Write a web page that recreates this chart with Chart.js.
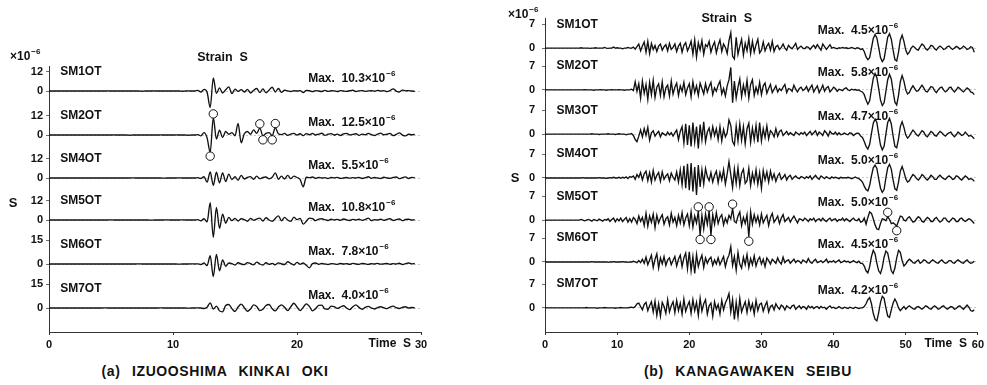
<!DOCTYPE html>
<html>
<head>
<meta charset="utf-8">
<script src="https://cdn.jsdelivr.net/npm/chart.js@4/dist/chart.umd.min.js"></script>
<style>
  body { margin: 0; background: #fff; }
  #wrap { position: relative; width: 987px; height: 385px; overflow: hidden; }
  canvas { position: absolute; top: 0; }
  #chartA { left: 0; }
  #chartB { left: 495px; }
  .cap {
    position: absolute; top: 363px; transform: translateX(-50%);
    font: bold 14px "Liberation Sans", Arial, sans-serif; color: #111;
    letter-spacing: 0.6px; word-spacing: 7px; white-space: nowrap;
  }
</style>
</head>
<body>
<div id="wrap">
  <canvas id="chartA" width="440" height="360"></canvas>
  <canvas id="chartB" width="492" height="360"></canvas>
  <div class="cap" style="left:215px">(a) IZUOOSHIMA KINKAI OKI</div>
  <div class="cap" style="left:748px">(b) KANAGAWAKEN SEIBU</div>
</div>
<script>
// Strain records (x10^-6), one sample every 0.25 s from t = 0.
const STEP = 0.25;

// ---- (a) IZUOOSHIMA KINKAI OKI ----
const namesA = ['SM1OT', 'SM2OT', 'SM4OT', 'SM5OT', 'SM6OT', 'SM7OT'];
const maxA = ['10.3', '12.5', '5.5', '10.8', '7.8', '4.0'];
const scaleTicksA = [12, 12, 12, 12, 15, 15];
const timeTicksA = [0, 10, 20, 30];

const a_SM1OT = [
  0, 0, 0, 0, 0, 0, 0, 0,
  0, 0, 0, 0, 0, 0, 0, 0,
  0, 0, 0, 0.1, 0, 0, 0, 0,
  0, 0, 0, 0, 0, 0, -0.1, 0,
  0, 0, 0.1, 0, 0, 0, 0, 0,
  0, 0, 0, -0.1, 0, 0.1, 0, 0,
  0.4, -0.6, 1.0, -0.8, -10.3, 8.2, -1.5, 2.0,
  -1.2, 0.8, 2.6, -1.6, 1.2, -0.2, 0.9, -0.6,
  1.0, -1.2, 0.4, 1.6, -1.0, 1.4, -1.1, 0.6,
  2.4, -0.6, 1.6, -0.8, 0.5, 0.1, -0.3, 0.2,
  0.0, 0.3, -1.0, 0.4, 0.2, -0.4, 0.3, 0.0,
  -0.3, 0.4, -0.2, 0.2, 0.1, -0.3, 0.3, 0.0,
  -0.2, 0.2, 0.5, -0.3, 0.1, 0.3, -0.2, 0.1,
  0.2, -0.1, 0.4, 0.0, 0.3, -0.4, 0.2, 1.4,
  0.0, -0.6, 0.6, 0.1, 0.3, 0.0, -0.2, null
];
const a_SM2OT = [
  0, 0, 0, 0, 0, 0, 0, 0,
  0, 0, 0, 0, 0, 0, 0, 0,
  0, 0, 0, 0, 0, 0.1, 0, 0,
  0, 0, -0.1, 0, 0, 0, 0, 0,
  0, 0, 0, 0, 0.1, 0, 0, 0,
  0, 0.1, 0, 0, 0, -0.1, 0, 0,
  0.3, -0.5, 1.5, -1.8, -10.8, 10.8, -2.5, 3.0,
  -1.5, 2.2, 0.5, 1.5, -0.5, 7.2, -4.8, 0.8,
  2.2, 0.5, 3.2, 1.0, 4.3, -0.4, 1.0, 1.5,
  -0.4, 4.6, 0.8, 0.3, 1.0, -0.2, 0.6, 1.0,
  0.0, 0.8, -0.4, 0.9, 0.2, 1.0, 0.0, 0.6,
  1.1, -0.2, 0.5, 0.9, 0.0, 0.6, -0.3, 0.7,
  1.0, 0.1, 0.4, 0.8, -0.2, 0.6, 0.2, 1.0,
  0.3, -0.3, 0.6, 1.2, 0.2, 0.5, 1.0, -0.4,
  0.4, 1.4, 0.0, -0.5, 0.5, 0.2, 0.4, null
];
const a_SM4OT = [
  0, 0, 0, 0, 0, 0, 0, 0,
  0, 0, 0, 0, 0, 0, 0, 0,
  0, 0, 0, 0, 0, 0, 0, 0,
  0, 0, 0, 0.1, 0, 0, 0, 0,
  0, 0, 0, 0, 0, -0.1, 0, 0,
  0, 0, 0.1, 0, 0, 0, 0, 0,
  0.2, -0.3, 0.8, -2.6, 3.8, -4.6, 3.6, -3.0,
  3.2, -2.2, 2.4, -1.0, 0.8, -1.4, 1.6, -0.6,
  0.4, 0.9, -0.8, 1.2, -0.4, 0.3, 0.6, -0.5,
  0.4, 3.2, -0.8, 1.2, -0.6, 1.6, -0.4, 1.2,
  0.3, -0.8, -5.5, 0.5, 0.2, 0.6, -0.2, 0.4,
  0.0, 0.2, -0.3, 0.3, 0.1, 0.4, -0.2, 0.0,
  0.3, -0.1, 0.2, 0.0, 0.4, -0.3, 0.1, 0.8,
  -0.2, 0.3, 0.0, -0.3, 0.5, 0.1, -0.2, 0.3,
  0.6, -0.4, 0.2, 0.7, -0.3, 0.4, 0.2, null
];
const a_SM5OT = [
  0, 0, 0, 0, 0, 0, 0, 0,
  0, 0, 0, 0, 0, 0, 0, 0,
  0, 0, 0, 0, 0.1, 0, 0, 0,
  0, 0, 0, 0, 0, 0, 0, 0,
  0, -0.1, 0, 0, 0, 0, 0.1, 0,
  0, 0, 0, 0.1, 0, 0, 0, 0,
  0.2, -0.5, 0.8, -1.2, 10.8, -10.8, 7.8, -5.2,
  3.6, -2.0, 1.6, -0.4, 1.0, -0.6, 0.8, 0.3,
  -0.8, 1.0, -0.2, 0.6, 1.2, -0.6, 1.4, 0.0,
  -0.8, 1.0, 2.6, -0.5, 1.6, 0.0, -0.9, 1.8,
  0.2, 1.0, -2.6, -0.8, 1.2, 0.8, -0.4, 0.6,
  0.8, 0.2, -0.3, 0.5, 0.0, 0.4, -0.2, 0.6,
  0.1, -0.3, 0.4, 0.0, 0.5, -0.2, 0.3, 1.2,
  -0.4, 0.2, 0.0, 0.5, -0.2, 0.4, 0.8, -0.3,
  0.2, 0.6, -0.4, 0.3, 0.5, 0.0, 0.2, null
];
const a_SM6OT = [
  0, 0, 0, 0, 0, 0, 0, 0,
  0, 0, 0, 0, 0, 0, 0, 0,
  0, 0, 0, 0, 0, 0, 0, 0,
  0, 0, 0, 0, 0, 0.1, 0, 0,
  0, 0, 0, 0, 0, 0, 0, 0,
  0, 0, -0.1, 0, 0, 0, 0.1, 0,
  0.1, -0.3, 0.6, -1.0, 5.2, -7.8, 6.0, -4.2,
  2.6, -1.4, 0.6, 0.2, -0.6, 0.8, 0.0, -0.4,
  0.9, 0.2, -0.5, 1.2, 0.0, -0.6, 0.8, -0.2,
  0.4, -0.5, 0.7, 0.0, -0.3, 1.4, 0.4, -0.6,
  1.0, -0.2, 0.6, -0.8, -2.4, 0.2, 0.6, -0.2,
  0.3, 0.0, -0.3, 0.2, 0.1, -0.2, 0.3, 0.0,
  0.2, -0.2, 0.4, 0.0, -0.2, 0.3, 0.1, -0.2,
  0.2, 0.0, 0.4, -0.1, 0.1, 0.3, -0.2, 0.2,
  0.0, 0.5, -0.3, 0.2, 0.6, 0.1, 0.3, null
];
const a_SM7OT = [
  0, 0, 0, 0, 0, 0, 0, 0,
  0, 0, 0, 0, 0, 0, 0, 0,
  0, 0, 0.1, 0, 0, 0, 0, 0,
  0, 0, 0, 0, 0, 0, 0, 0,
  0, 0, 0, 0, 0.1, 0, 0, 0,
  0, 0, 0, 0, 0, -0.1, 0, 0,
  0.1, 0.0, -0.3, 0.5, 3.2, -0.6, 1.2, -1.8,
  -2.4, 1.6, 2.2, -0.4, -2.2, 0.6, 2.4, 0.2,
  -2.0, -0.6, 2.0, 1.0, -1.6, -0.8, 1.6, 2.2,
  -0.4, -1.8, 0.6, 2.0, 0.4, -1.6, 0.8, 3.0,
  0.6, -1.6, 0.4, 2.6, 1.0, -1.8, -0.4, 1.6,
  1.8, -0.6, -0.8, 1.2, 0.8, -0.2, 0.6, 1.4,
  0.0, -1.0, 0.8, 2.0, 0.4, -0.8, 0.4, 1.0,
  0.0, -0.6, 0.3, 0.8, 0.2, -0.4, 0.6, 1.2,
  0.2, -0.3, 0.4, 0.8, 0.0, 0.3, 0.1, null
];
const tracesA = [a_SM1OT, a_SM2OT, a_SM4OT, a_SM5OT, a_SM6OT, a_SM7OT];

// circled peaks on SM2OT (time s, strain)
const ringTimesA = [13.0, 13.25, 17.0, 17.25, 18.0, 18.25];
const ringValuesA = [-13.2, 13.2, 7.0, -3.0, -3.0, 7.2];

// ---- (b) KANAGAWAKEN SEIBU ----
const namesB = ['SM1OT', 'SM2OT', 'SM3OT', 'SM4OT', 'SM5OT', 'SM6OT', 'SM7OT'];
const maxB = ['4.5', '5.8', '4.7', '5.0', '5.0', '4.5', '4.2'];
const scaleTicksB = [7, 7, 7, 7, 7, 7, 7];
const timeTicksB = [0, 10, 20, 30, 40, 50, 60];

const b_SM1OT = [
  0, 0, 0, 0, 0, 0, 0, 0,
  0, 0, 0, 0, 0, 0, 0, 0,
  0, 0, 0, 0, 0.1, 0, 0, 0,
  0, -0.1, 0, 0, 0.1, 0, 0, 0,
  0, 0.2, 0, -0.1, 0, 0, 0.3, 0,
  0.1, 0, 0, -0.2, 0, 0, 0.2, 0,
  0, 0.3, -0.3, 0.4, 1.2, -0.8, 0.6, 1.8,
  -1.2, 2.0, -1.6, 1.4, -0.4, 0.8, -1.0, 0.6,
  1.2, -0.6, 0.4, 1.0, -0.8, 1.4, -0.4, 0.2,
  1.2, -1.0, 0.6, 1.4, -1.2, 0.8, 1.6, -0.8,
  0.4, 2.0, -1.8, 2.4, -2.6, 1.6, -0.6, 2.2,
  -1.8, 1.0, 0.4, 2.0, -1.2, 0.6, 1.8, -1.4,
  0.8, 2.4, -1.0, 1.2, 0.2, -1.6, 2.2, 4.5,
  -2.4, -3.2, 3.2, -1.8, 0.6, 2.6, -2.0, 1.4,
  -0.8, 2.8, -1.6, 2.0, -1.2, 1.0, 2.6, -1.4,
  -0.6, 1.8, -0.8, 0.6, 1.4, -0.6, 2.0, -1.0,
  0.4, 0.8, -0.4, 0.2, 1.2, 0.0, -0.6, 0.8,
  0.2, -0.2, 0.6, 1.4, -0.4, 0.2, 0.6, 0.0,
  -0.2, 0.4, 0.2, -0.4, 0.3, 0.8, 0.0, 1.0,
  0.2, -0.6, 1.2, 0.4, -0.4, 0.3, 1.0, 0.0,
  0.2, 0.0, -0.2, 0.1, 0.0, 0.2, 0.0, 0.1,
  -0.1, 0.0, 0.2, 0.0, -0.2, 0.1, 0.0, -0.4,
  -0.2, -1.0, -2.6, -3.4, -2.8, 0.0, 2.8, 4.0,
  3.0, 0.2, -2.8, -4.0, -3.2, 0.0, 3.2, 4.2,
  2.6, -0.6, -3.4, -3.8, -1.2, 2.4, 3.8, 2.0,
  -0.6, -1.8, -1.2, 0.0, 0.6, 0.2, -0.4, -0.6,
  0.4, 1.2, 0.8, -0.2, -0.6, 0.0, 0.8, 0.6,
  -0.2, -0.6, 0.2, 0.6, 0.2, -0.4, -0.2, 0.4,
  0.6, 0.0, -0.4, 0.0, 0.5, 0.2, -0.3, 0.0,
  0.6, 0.2, -0.4, -0.2, 0.4, 0.2, -1.2, null
];
const b_SM2OT = [
  0, 0, 0, 0, 0, 0, 0, 0,
  0, 0, 0, 0, 0, 0, 0, 0,
  0, 0, 0, 0, 0, 0, 0.1, 0,
  0, 0, 0, -0.1, 0, 0, 0, 0.1,
  0, 0, -0.1, 0, 0, 0.1, 0, 0,
  0, 0.1, 0, 0, -0.1, 0, 0, 0,
  0.2, -0.2, 2.4, -0.4, 1.8, -2.4, 2.6, -1.0,
  1.6, -2.8, 2.2, -1.4, 2.8, -2.2, 0.8, 1.8,
  -1.6, 2.4, -2.0, 0.6, 1.4, -1.8, 2.6, -1.2,
  0.8, 2.0, -1.6, 1.2, -0.4, 2.2, -1.4, 0.6,
  1.8, -2.0, 2.4, -0.8, 1.2, -1.6, 2.0, 0.4,
  -1.2, 1.8, -0.6, 1.0, 2.2, -1.4, 0.6, -0.4,
  1.4, 2.6, -1.2, 0.4, -1.8, 1.2, 3.0, 6.6,
  -3.8, 2.6, -2.4, 0.8, 3.2, -2.0, 1.4, -1.2,
  2.8, -2.4, 1.6, 3.0, -1.6, 0.8, -1.0, 2.2,
  -1.4, 1.2, 2.0, -1.0, 0.4, 1.6, -0.8, 0.2,
  1.2, -0.6, 0.4, -0.2, 0.8, 1.6, -0.8, 0.4,
  0.2, -0.4, 1.4, 0.2, -0.6, 0.4, 0.8, -0.2,
  0.2, 1.0, -0.4, 0.6, 1.4, -0.6, 0.4, 1.2,
  -0.8, 0.2, 1.4, -0.4, 0.6, 1.0, -0.6, 0.0,
  0.8, 0.4, -0.4, 0.2, 0.0, -0.2, 0.4, 0.6,
  0.0, -0.2, 0.2, 0.0, 0.1, -0.1, 0.0, -0.4,
  -0.6, -1.4, -3.0, -4.2, -3.2, 0.2, 3.4, 4.8,
  3.6, 0.4, -3.0, -4.6, -3.8, -0.4, 3.0, 4.6,
  3.2, -0.4, -3.6, -4.4, -1.6, 2.4, 4.2, 2.6,
  0.0, -1.2, -0.8, 0.4, 1.2, 0.4, -0.4, -0.2,
  0.6, 1.4, 0.6, -0.4, -0.6, 0.2, 1.0, 0.8,
  -0.2, -0.8, 0.0, 0.6, 0.8, 0.0, -0.6, -0.2,
  0.6, 0.8, 0.0, -0.6, 0.0, 0.8, 0.4, -0.2,
  -0.6, 0.0, 0.6, 0.2, -0.6, -0.8, -1.4, null
];
const b_SM3OT = [
  0, 0, 0, 0, 0, 0, 0, 0,
  0, 0, 0, 0, 0, 0, 0, 0,
  0, 0, 0, 0, 0, 0, 0, 0,
  0, 0, 0.1, 0, 0, 0, -0.1, 0,
  0, 0, 0, 0.1, 0, 0, 0, -0.1,
  0, 0.1, 0, 0, 0, -0.2, 0, 0,
  0.2, -0.4, -1.6, -2.2, -0.6, 1.2, -0.8, 1.6,
  -0.4, 2.0, -1.8, 0.4, 1.0, -0.6, 0.2, 0.8,
  -0.8, 0.4, 0.0, -0.4, 0.6, -0.2, 0.4, -0.6,
  0.4, 1.2, -1.6, 0.8, 2.2, -2.6, 3.0, -3.2,
  2.6, -3.6, 3.4, -2.4, 2.2, -4.2, 2.8, -1.6,
  3.6, -2.2, 0.6, 1.8, -1.0, 2.2, -0.4, 1.6,
  -1.6, 2.2, -2.0, 1.4, -0.8, 0.4, 4.2, 2.6,
  -2.2, -3.2, 2.4, -2.0, 3.0, -1.8, 2.2, -2.8,
  1.6, 3.2, -2.4, 1.8, -1.6, 2.6, -2.4, 3.4,
  -2.0, 1.6, -1.0, 2.4, -1.4, 1.0, 0.4, -0.8,
  1.6, -0.6, 0.8, 1.2, -0.4, 0.2, 0.8, -0.2,
  0.4, 0.0, -0.4, 0.6, 0.2, -0.2, 0.4, 0.0,
  0.6, -0.4, 0.2, 0.8, -0.2, 0.4, 1.0, -0.4,
  0.6, 0.2, -0.4, 1.0, 0.4, -0.6, 0.8, 0.2,
  0.0, 0.6, -0.2, 0.4, -0.2, 0.0, 0.3, 0.0,
  -0.2, 0.4, 0.2, -0.4, 0.0, 0.3, 0.2, -0.6,
  -1.0, -2.2, -3.6, -4.4, -3.0, 0.2, 3.2, 4.4,
  3.4, 0.0, -3.2, -4.6, -3.6, 0.0, 3.4, 4.6,
  3.0, -0.6, -3.6, -4.0, -1.4, 2.2, 3.6, 2.0,
  -0.2, -1.2, -0.6, 0.4, 1.2, 0.6, -0.2, -0.6,
  0.2, 1.0, 0.6, -0.4, -0.8, 0.0, 0.8, 0.4,
  -0.4, -0.6, 0.2, 0.8, 0.4, -0.2, -0.6, 0.0,
  0.4, 0.6, -0.2, -0.8, -0.2, 0.6, 0.2, -0.4,
  -0.2, 0.6, 0.0, -0.6, -0.4, -0.8, -1.4, null
];
const b_SM4OT = [
  0, 0, 0, 0, 0, 0, 0, 0,
  0, 0, 0, 0, 0, 0, 0, 0,
  0, 0, 0, 0, 0, 0.1, 0, 0,
  0, 0, 0, 0, 0, 0, 0.1, 0,
  0, 0, -0.1, 0, 0.1, 0, 0.2, 0,
  0, 0.2, -0.1, 0.2, 0, 0.3, -0.2, 0.4,
  0.2, 0.6, -0.4, 1.0, 0.2, 1.6, -0.6, 1.2,
  2.0, -0.8, 1.6, -1.2, 2.2, -0.6, 0.8, 1.6,
  -1.0, 1.8, -0.4, 0.6, 1.2, -0.8, 1.4, 0.2,
  -0.6, 1.8, -1.2, 2.4, -2.0, 3.6, -3.0, 4.2,
  -3.6, 4.4, -4.0, 3.2, -5.0, 3.8, -2.6, 2.4,
  -1.8, 2.8, 0.4, -0.8, 1.6, -1.2, 0.8, 2.0,
  -1.4, 1.6, -0.6, 2.4, -1.8, 1.2, 4.8, 1.0,
  -2.8, 2.6, -1.6, 3.0, -2.2, 1.4, 2.6, -1.6,
  -0.8, 2.8, -2.2, 1.4, -1.2, 2.4, -1.8, 1.6,
  -3.0, 2.2, -0.6, 1.8, -1.2, 2.0, -0.4, 1.2,
  -1.0, 0.6, 1.4, -0.4, 0.2, 1.0, -0.6, 0.4,
  0.8, -0.4, 0.2, 0.6, 0.0, -0.2, 0.4, 0.2,
  -0.2, 0.4, 0.0, 0.6, -0.4, 0.2, 0.8, 0.0,
  -0.4, 0.6, 0.2, -0.2, 0.4, 0.0, -0.2, 0.3,
  0.0, 0.2, 0.0, -0.2, 0.2, 0.0, 0.1, 0.0,
  0.2, 0.0, -0.2, 0.0, 0.3, 0.0, -0.2, -0.6,
  -1.2, -2.4, -3.4, -3.8, -2.2, 0.6, 3.0, 3.8,
  2.8, -0.2, -3.0, -4.2, -3.4, 0.0, 3.0, 4.0,
  2.6, -0.6, -3.2, -3.6, -1.2, 2.0, 3.4, 1.8,
  -0.2, -1.2, -0.8, 0.2, 1.0, 0.6, -0.2, -0.6,
  0.0, 1.0, 0.6, -0.2, -0.6, 0.0, 0.8, 0.4,
  -0.4, -0.4, 0.4, 0.8, 0.2, -0.2, -0.4, 0.2,
  0.6, 0.2, -0.4, -0.2, 0.6, 0.4, -0.2, -0.6,
  0.0, 0.6, 0.2, -0.4, -0.2, -0.4, -1.0, null
];
const b_SM5OT = [
  0, 0, 0, 0, 0, 0, 0, 0,
  0, 0, 0, 0, 0, 0, 0, 0,
  0, 0, 0, 0, 0.2, 0, -0.2, 0,
  0.2, 0, -0.3, 0.2, 0, -0.2, 0.3, 0,
  -0.3, 0.2, 0, 0.4, -0.4, 0.2, 0.6, -0.5,
  0.4, -0.2, 0.6, -0.4, 0.2, 0.8, -0.6, 0.4,
  -0.6, 0.8, 0.2, -1.0, 1.2, -0.4, 0.8, -1.6,
  2.0, -1.8, 1.2, -0.6, 1.8, -2.2, 1.4, -0.8,
  0.6, 1.6, -1.2, 0.4, 1.0, -1.4, 2.0, -0.6,
  0.8, -1.6, 1.4, -0.8, 2.2, -1.4, 0.6, 1.8,
  -1.6, 2.4, -2.0, 1.2, -0.8, 2.6, -4.4, 1.4,
  -2.6, 1.8, -1.2, 2.6, -4.4, 1.6, -1.2, 2.2,
  -1.0, 0.8, 1.6, -1.4, 0.6, -0.8, 1.4, 0.4,
  3.4, -0.4, -0.8, 1.2, 2.4, -1.6, 0.8, -1.0,
  1.6, -4.9, 2.4, -1.2, 1.6, -0.6, 1.2, -1.4,
  1.8, -0.8, 0.4, 1.4, -1.6, 0.8, 2.0, -0.6,
  0.2, 1.2, -1.0, 0.6, 1.6, -0.4, 0.2, 0.8,
  -0.6, 0.4, 1.2, 0.2, -0.8, 0.4, 0.2, -0.2,
  0.6, 0.2, -0.4, 0.4, 0.0, 0.6, -0.4, 0.2,
  0.4, -0.2, 0.6, 0.0, -0.4, 0.2, 0.6, -0.2,
  0.2, 0.4, -0.4, 0.2, 0.0, 0.6, -0.2, 0.4,
  0.0, -0.4, 0.2, 0.6, 0.0, -0.2, 0.4, -0.6,
  -0.4, 0.6, -1.2, 0.8, 2.4, 2.0, 0.4, -1.4,
  -2.6, -2.8, -1.0, 0.4, 0.2, -0.2, 1.0, 0.2,
  -1.0, -0.8, -1.2, -1.8, -0.2, 1.2, 1.0, 0.0,
  -0.2, 0.6, 1.0, 0.2, -0.6, -0.4, 0.4, 1.0,
  0.6, -0.4, -0.6, 0.2, 0.8, 0.4, -0.4, -0.4,
  0.4, 0.8, 0.0, -0.6, -0.2, 0.6, 0.6, -0.2,
  -0.6, 0.0, 0.6, 0.4, -0.4, -0.4, 0.4, 0.6,
  0.0, -0.4, 0.0, 0.4, 0.2, -0.4, -1.0, null
];
const b_SM6OT = [
  0, 0, 0, 0, 0, 0, 0, 0,
  0, 0, 0, 0, 0, 0, 0, 0,
  0, 0, 0, 0, 0, 0, 0, 0,
  0, 0, 0.1, 0, 0, 0, 0, 0,
  0, 0, 0, -0.1, 0, 0, 0.1, 0,
  0, 0, 0, 0.1, 0, 0, -0.1, 0,
  0, 0.2, 0, -0.2, 0.4, -0.2, 0.8, -0.4,
  1.4, -0.8, 0.6, 2.0, -1.6, 0.8, 2.4, -1.8,
  1.2, -0.6, 1.6, -1.0, 0.6, 1.2, -0.8, 0.4,
  1.6, -1.2, 0.8, 2.0, -1.4, 1.2, 2.6, -2.0,
  3.0, -2.6, 1.6, -3.4, 2.2, -1.4, 0.6, 2.0,
  -1.6, 1.2, -0.4, 0.8, 1.4, -1.0, 0.6, -0.6,
  1.2, -0.8, 0.4, 1.6, -1.4, 0.8, 2.0, 4.5,
  -1.0, 1.6, -2.4, 2.8, -0.6, -1.8, 1.4, -0.8,
  2.2, -1.6, 1.0, -0.8, 1.8, -1.2, 0.6, 1.4,
  -0.6, 0.8, -1.4, 1.2, 0.4, -0.6, 0.8, 0.2,
  -0.4, 1.2, 0.0, -0.6, 1.4, -0.2, 0.4, 0.6,
  -0.4, 0.2, 0.8, -0.2, 0.4, 0.2, -0.4, 0.6,
  0.2, -0.2, 1.0, 0.0, -0.4, 0.4, 0.8, -0.2,
  0.0, 0.4, -0.2, 0.2, 0.8, -0.2, 0.2, 0.0,
  0.4, -0.2, 0.2, 0.6, -0.2, 0.0, 0.4, 0.0,
  0.2, -0.2, 0.0, 0.4, 0.0, -0.2, 0.2, -0.4,
  -0.4, -1.2, -2.6, -3.2, -1.4, 1.6, 3.4, 2.4,
  -0.4, -2.6, -3.4, -1.6, 1.4, 3.2, 2.6, 0.0,
  -2.6, -3.4, -1.8, 1.2, 3.4, 2.8, 0.4, -1.2,
  -0.6, 0.2, 0.8, 0.4, -0.2, -0.4, 0.2, 0.6,
  -0.4, 0.0, 0.6, 0.4, -0.2, -0.4, 0.2, 0.6,
  0.2, -0.2, -0.4, 0.2, 0.6, 0.0, -0.4, -0.2,
  0.4, 0.4, -0.2, -0.4, 0.2, 0.6, 0.2, -0.2,
  -0.4, 0.2, 0.6, 0.0, -0.4, -0.2, 0.2, null
];
const b_SM7OT = [
  0, 0, 0, 0, 0, 0, 0, 0,
  0, 0, 0, 0, 0, 0, 0, 0,
  0, 0, 0, 0, 0, 0, 0, 0.1,
  0, 0, 0, 0, 0, -0.1, 0, 0,
  0, 0.1, 0, 0, 0, 0, 0, -0.1,
  0, 0, 0.1, 0, 0, 0, 0, 0.1,
  0.2, 0.0, 0.4, 1.2, 1.4, 0.4, -0.6, 1.0,
  1.6, -0.8, 0.6, 1.8, -1.2, 2.0, -2.2, 1.2,
  -2.4, 1.6, 0.4, -1.6, 2.4, -1.2, 0.6, 1.8,
  -1.4, 2.2, -0.8, 1.4, -1.8, 2.6, -1.0, 0.6,
  1.8, -1.6, 2.4, -0.8, 1.6, -2.2, 2.8, -1.0,
  1.2, 2.4, -1.8, 0.6, 1.4, -2.4, 1.8, -0.4,
  1.0, -1.8, 2.2, -0.6, 1.4, 2.6, 4.2, -1.2,
  2.4, -3.4, 1.6, -2.6, 2.8, -1.2, 0.4, 1.8,
  -1.4, 2.0, -0.6, 1.2, -1.8, 2.2, -0.8, 1.0,
  1.4, -1.0, 0.6, 1.8, -1.2, 0.4, 0.8, -0.6,
  1.2, 0.2, -0.4, 0.8, 0.4, -0.6, 0.6, 0.2,
  -0.2, 0.6, 0.8, -0.4, 0.2, 0.6, -0.2, 0.4,
  0.2, -0.4, 0.6, 0.0, 0.4, -0.2, 0.2, 0.4,
  -0.2, 0.4, 0.0, 0.2, -0.4, 0.2, 0.6, 0.0,
  0.2, -0.2, 0.0, 0.4, 0.0, -0.2, 0.2, 0.0,
  -0.2, 0.2, 0.0, -0.2, 0.2, 0.0, -0.2, 0.0,
  0.0, 0.4, 1.2, 2.4, 3.0, 1.2, -1.6, -3.4,
  -3.8, -1.4, 1.6, 3.4, 2.8, 0.0, -2.4, -2.8,
  -0.6, 1.4, 2.6, 1.6, 0.0, -0.8, -0.2, 0.4,
  -0.4, 0.2, 0.6, 0.2, -0.2, -0.4, 0.2, 0.4,
  0.0, -0.4, 0.0, 0.6, 0.4, -0.2, -0.4, 0.2,
  0.6, 0.2, -0.4, -0.2, 0.4, 0.6, 0.0, -0.4,
  0.0, 0.4, 0.2, -0.4, -0.2, 0.4, 0.6, 0.0,
  -0.4, 0.2, 0.8, 0.2, -0.8, -1.0, -0.6, null
];
const tracesB = [b_SM1OT, b_SM2OT, b_SM3OT, b_SM4OT, b_SM5OT, b_SM6OT, b_SM7OT];

// circled peaks on SM5OT (time s, strain)
const ringTimesB = [21.25, 21.5, 22.75, 23.0, 26.0, 28.25, 47.5, 48.75];
const ringValuesB = [3.9, -5.7, 3.9, -5.7, 4.7, -6.2, 2.3, -3.1];

// ---------------------------------------------------------------------------
const FONT = '"Liberation Sans", Arial, sans-serif';
const INK = '#111';
Chart.defaults.font.family = FONT;
Chart.defaults.font.weight = 'bold';
Chart.defaults.font.size = 11;
Chart.defaults.color = INK;

function boldFont(px) { return `bold ${px}px ${FONT}`; }

// text with a small raised exponent, e.g. "×10" + "−6"
function drawPow(ctx, base, exp, x, y, size) {
  ctx.textAlign = 'left';
  ctx.font = boldFont(size);
  const w = ctx.measureText(base).width;
  ctx.fillText(base, x, y);
  ctx.font = boldFont(Math.round(size * 0.68));
  ctx.fillText(exp, x + w + 1, y - size * 0.42);
}

// labels placed through the chart's own scales
const panelText = {
  id: 'panelText',
  afterDraw(chart, _args, o) {
    const { ctx, chartArea: area, scales: { x, y } } = chart;
    ctx.save();
    ctx.fillStyle = INK;
    ctx.textBaseline = 'middle';

    drawPow(ctx, '×10', '−6', area.left + o.unit.dx, area.top + o.unit.dy, 12);

    ctx.font = boldFont(13);
    ctx.textAlign = 'center';
    ctx.fillText('S', area.left + o.sAt.dx, area.top + o.sAt.dy);

    ctx.font = boldFont(12.5);
    ctx.fillText('Strain  S', x.getPixelForValue(o.title.t), area.top + o.title.dy);

    o.names.forEach((name, i) => {
      ctx.font = boldFont(12);
      ctx.textAlign = 'left';
      ctx.fillText(name, x.getPixelForValue(o.nameAt.t), y.getPixelForValue(o.offsets[i] + o.nameAt.v));
      drawPow(ctx, 'Max.  ' + o.maxes[i] + '×10', '−6',
        x.getPixelForValue(o.maxAt.t), y.getPixelForValue(o.offsets[i] + o.maxAt.v), 12);
    });

    ctx.font = boldFont(12);
    ctx.textAlign = 'right';
    ctx.fillText('Time  S', x.getPixelForValue(o.timeLabel.t) + o.timeLabel.dx, area.bottom + 11.5);
    ctx.restore();
  }
};

function buildPanel(canvasId, p) {
  const datasets = p.traces.map((vals, i) => ({
    data: vals.map((v, k) => ({ x: k * STEP, y: v === null ? null : p.offsets[i] + v })),
    borderColor: INK,
    borderWidth: 1.35,
    pointRadius: 0,
    cubicInterpolationMode: p.smooth ? 'monotone' : 'default',
    tension: 0,
    spanGaps: false
  }));
  datasets.push({
    data: p.ringTimes.map((t, k) => ({ x: t, y: p.offsets[p.ringTrace] + p.ringValues[k] })),
    showLine: false,
    pointStyle: 'circle',
    pointRadius: 4.2,
    borderWidth: 1,
    borderColor: INK,
    backgroundColor: '#fff',
    order: -1
  });

  const tickVals = [];
  const tickText = {};
  p.offsets.forEach((off, i) => {
    tickVals.push(off, off + p.scaleTicks[i]);
    tickText[off] = '0';
    tickText[off + p.scaleTicks[i]] = String(p.scaleTicks[i]);
  });
  tickVals.sort((a, b) => a - b);
  const baselines = new Set(p.offsets);

  return new Chart(document.getElementById(canvasId), {
    type: 'line',
    data: { datasets },
    plugins: [panelText],
    options: {
      responsive: false,
      animation: false,
      layout: { padding: p.padding },
      plugins: { legend: { display: false }, tooltip: { enabled: false }, panelText: p.text },
      scales: {
        x: {
          type: 'linear', min: p.timeTicks[0], max: p.timeTicks[p.timeTicks.length - 1],
          afterBuildTicks: (s) => { s.ticks = p.timeTicks.map((v) => ({ value: v })); },
          afterFit: (s) => { s.height = 28; },
          ticks: { padding: 3, maxRotation: 0, autoSkip: false },
          grid: { drawOnChartArea: false, drawTicks: true, tickLength: 3, color: '#333' },
          border: { display: true, color: '#333', width: 1, dash: p.xDash }
        },
        y: {
          type: 'linear', min: 0, max: p.yMax,
          afterBuildTicks: (s) => { s.ticks = tickVals.map((v) => ({ value: v })); },
          afterFit: (s) => { s.width = p.yWidth; },
          ticks: { padding: p.yPad, autoSkip: false, callback: (v) => tickText[v] },
          grid: {
            drawTicks: true, tickLength: 3, tickColor: '#333', lineWidth: 0.7,
            color: (c) => (c.tick && baselines.has(c.tick.value)) ? 'rgba(0,0,0,0.3)' : 'rgba(0,0,0,0)'
          },
          border: { display: true, color: '#333', width: 1, dash: [2, 2] }
        }
      }
    }
  });
}

// panel (a): 1.6 px per 10^-6, baselines at y = 91 ... 308
buildPanel('chartA', {
  traces: tracesA, scaleTicks: scaleTicksA, timeTicks: timeTicksA, smooth: true,
  offsets: [150.6, 123.1, 96.25, 70, 42.5, 15],
  ringTrace: 1, ringTimes: ringTimesA, ringValues: ringValuesA,
  yMax: 166.25, yWidth: 49, yPad: 3, xDash: [1, 3],
  padding: { top: 66, right: 19, left: 0, bottom: 0 },
  text: {
    names: namesA, maxes: maxA, offsets: [150.6, 123.1, 96.25, 70, 42.5, 15],
    nameAt: { t: 0.9, v: 12 }, maxAt: { t: 20.9, v: 7.5 },
    unit: { dx: -39, dy: -9 }, sAt: { dx: -36, dy: 137 },
    title: { t: 14.0, dy: -8 }, timeLabel: { t: 30, dx: -10 }
  }
});

// panel (b): 3.4 px per 10^-6, baselines at y = 48 ... 308
buildPanel('chartB', {
  traces: tracesB, scaleTicks: scaleTicksB, timeTicks: timeTicksB, smooth: false,
  offsets: [83.5, 71.2, 58.2, 45.3, 32.9, 20.6, 7.1],
  ringTrace: 4, ringTimes: ringTimesB, ringValues: ringValuesB,
  yMax: 92.35, yWidth: 50, yPad: 7, xDash: [3, 2],
  padding: { top: 18, right: 9, left: 0, bottom: 0 },
  text: {
    names: namesB, maxes: maxB, offsets: [83.5, 71.2, 58.2, 45.3, 32.9, 20.6, 7.1],
    nameAt: { t: 1.6, v: 7 }, maxAt: { t: 37.8, v: 5 },
    unit: { dx: -37, dy: -3 }, sAt: { dx: -30, dy: 160 },
    title: { t: 25.2, dy: 1 }, timeLabel: { t: 60, dx: -11 }
  }
});
</script>
</body>
</html>
